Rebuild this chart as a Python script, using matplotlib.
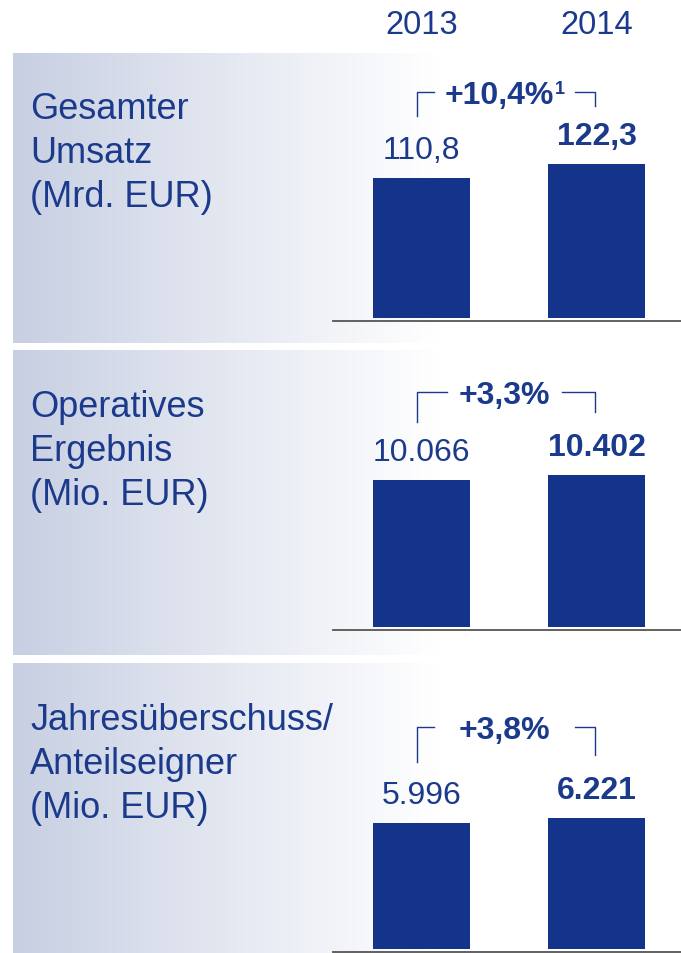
import matplotlib
matplotlib.use('Agg')
import matplotlib.pyplot as plt
import numpy as np
from matplotlib.colors import LinearSegmentedColormap
from matplotlib.transforms import blended_transform_factory

plt.rcParams['font.family'] = ['Liberation Sans', 'DejaVu Sans']

# data
years = ['2013', '2014']
titles = [['Gesamter', 'Umsatz', '(Mrd. EUR)'],
          ['Operatives', 'Ergebnis', '(Mio. EUR)'],
          ['Jahresüberschuss/', 'Anteilseigner', '(Mio. EUR)']]
umsatz = [110.8, 122.3]
ergebnis = [10066, 10402]
ueberschuss = [5996, 6221]
changes = ['+10,4%', '+3,3%', '+3,8%']
footnotes = ['1', '', '']


def fmt_dec(v):
    return f'{v:.1f}'.replace('.', ',')


def fmt_thou(v):
    return f'{v:,.0f}'.replace(',', '.')


series = [(umsatz, fmt_dec), (ergebnis, fmt_thou), (ueberschuss, fmt_thou)]

# layout (pixels)
W, H = 681, 954
navy = '#13348a'
txt = '#1b3a8c'
boxes = [(54, 344), (351, 656), (664, 954)]
bar_bottom = [319, 628, 950]
base_line = [322, 631, 953]
units_per_px = [0.794, 68.4, 47.5]
title_base = [119, 417, 730]
brk_top = [93, 393, 728]
brk_left_len = [24, 30, 35]
brk_right_len = [14, 20, 28]
brk_inner = [(434, 575), (447, 562), (434, 575)]

fig = plt.figure(figsize=(W / 100, H / 100), dpi=100)
bg = fig.add_axes([0, 0, 1, 1], zorder=0)
cmap = LinearSegmentedColormap.from_list('g', ['#c7cfe2', '#e4e8f1', '#ffffff'])
grad = np.linspace(0, 1, 256).reshape(1, -1)
for top, bot in boxes:
    bg.imshow(grad, cmap=cmap, aspect='auto', extent=(13, 440, bot, top))
bg.set_xlim(0, W)
bg.set_ylim(H, 0)
bg.axis('off')

axes = []
for i, (vals, fmt) in enumerate(series):
    bl = base_line[i]
    upp = units_per_px[i]
    ax = fig.add_axes([333 / W, 1 - bl / H, 348 / W, 300 / H], zorder=1)
    ax.patch.set_alpha(0)
    x = np.arange(len(vals))
    ax.bar(x, vals, width=0.554, color=navy)
    lo = -(bl - bar_bottom[i]) * upp
    ax.set_ylim(lo, lo + 300 * upp)
    ax.set_xlim(-0.506, 1.483)
    for s in ['top', 'right', 'left']:
        ax.spines[s].set_visible(False)
    ax.spines['bottom'].set_color('#555555')
    ax.spines['bottom'].set_linewidth(1.3)
    ax.set_xticks([])
    ax.set_yticks([])
    for j, v in enumerate(vals):
        ax.annotate(fmt(v), (x[j], v), xytext=(0, 14.5), textcoords='offset points',
                    ha='center', va='baseline', fontsize=23, color=txt,
                    fontweight='bold' if j == 1 else 'normal')
    axes.append(ax)

    # titles
    for k, line in enumerate(titles[i]):
        bg.text(30, title_base[i] + 44 * k, line, fontsize=26, color=txt,
                ha='left', va='baseline')

    # change bracket
    t = brk_top[i]
    a, b = brk_inner[i]
    bg.plot([417, 417, a], [t + brk_left_len[i], t, t], color=txt, lw=1.0)
    bg.plot([b, 595, 595], [t, t, t + brk_right_len[i]], color=txt, lw=1.0)
    cx = 504 - 5 * len(footnotes[i])
    pct = bg.text(cx, t + 3, changes[i], fontsize=23, fontweight='bold', color=txt,
                  ha='center', va='center')
    if footnotes[i]:
        bg.annotate(footnotes[i], xy=(1, 1), xycoords=pct, xytext=(0.5, 0),
                    textcoords='offset points', ha='left', va='top',
                    fontsize=13, fontweight='bold', color=txt)

tr = blended_transform_factory(axes[0].transData, bg.transData)
for j, y in enumerate(years):
    axes[0].text(j, 25, y, transform=tr, ha='center', va='center',
                 fontsize=23.5, color=txt, clip_on=False)

fig.savefig('out.png', dpi=100)
